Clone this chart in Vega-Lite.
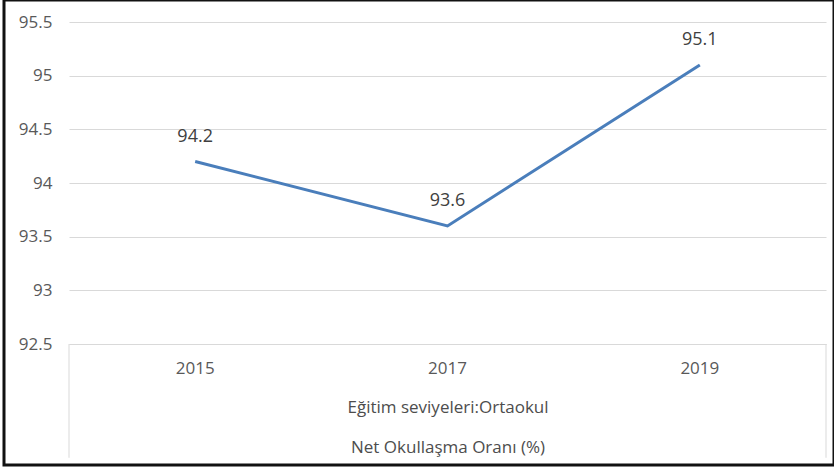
{
  "$schema": "https://vega.github.io/schema/vega-lite/v6.json",
  "autosize": "none",
  "width": 830,
  "height": 465,
  "padding": {"left": 4, "top": 0, "right": 0, "bottom": 3},
  "background": "white",
  "config": {
    "font": "Open Sans",
    "view": {"stroke": "#111111", "strokeWidth": 3}
  },
  "data": {
    "values": [
      {"year": "2015", "rate": 94.2},
      {"year": "2017", "rate": 93.6},
      {"year": "2019", "rate": 95.1}
    ]
  },
  "layer": [
    {
      "mark": {"type": "line", "color": "#4a7ebb", "strokeWidth": 3},
      "encoding": {
        "x": {
          "field": "year",
          "type": "nominal",
          "bandPosition": 0.5,
          "scale": {"type": "band", "range": [65, 822], "paddingInner": 0, "paddingOuter": 0},
          "axis": {
            "orient": "bottom",
            "offset": -121,
            "labelAngle": 0,
            "labelFontSize": 17,
            "labelColor": "#595959",
            "labelPadding": 16,
            "ticks": false,
            "tickSize": 0,
            "grid": false,
            "domain": true,
            "domainColor": "#d9d9d9",
            "domainWidth": 1,
            "title": ["Eğitim seviyeleri:Ortaokul", "Net Okullaşma Oranı (%)"],
            "titleFontSize": 17,
            "titleFontWeight": "normal",
            "titleColor": "#4d4d4d",
            "titleLineHeight": 40,
            "titlePadding": 23
          }
        },
        "y": {
          "field": "rate",
          "type": "quantitative",
          "scale": {"domain": [92.5, 95.5], "range": [344, 22], "zero": false, "nice": false},
          "axis": {
            "orient": "left",
            "offset": -65,
            "values": [92.5, 93, 93.5, 94, 94.5, 95, 95.5],
            "format": "~g",
            "labelFontSize": 17,
            "labelColor": "#595959",
            "labelPadding": 17,
            "ticks": false,
            "tickSize": 0,
            "domain": false,
            "grid": true,
            "gridColor": "#d9d9d9",
            "gridWidth": 1,
            "title": null
          }
        }
      }
    },
    {
      "mark": {"type": "text", "fontSize": 18, "color": "#404040", "baseline": "alphabetic", "dy": -20},
      "encoding": {
        "x": {"field": "year", "type": "nominal", "bandPosition": 0.5},
        "y": {"field": "rate", "type": "quantitative"},
        "text": {"field": "rate", "type": "quantitative", "format": ".1f"}
      }
    },
    {
      "data": {"values": [{}]},
      "mark": {"type": "rule", "color": "#d9d9d9", "strokeWidth": 1},
      "encoding": {
        "x": {"datum": "2015", "type": "nominal", "bandPosition": 0},
        "y": {"datum": 92.5, "type": "quantitative"},
        "y2": {"datum": 91.44}
      }
    },
    {
      "data": {"values": [{}]},
      "mark": {"type": "rule", "color": "#d9d9d9", "strokeWidth": 1},
      "encoding": {
        "x": {"datum": "2019", "type": "nominal", "bandPosition": 1},
        "y": {"datum": 92.5, "type": "quantitative"},
        "y2": {"datum": 91.44}
      }
    }
  ]
}
